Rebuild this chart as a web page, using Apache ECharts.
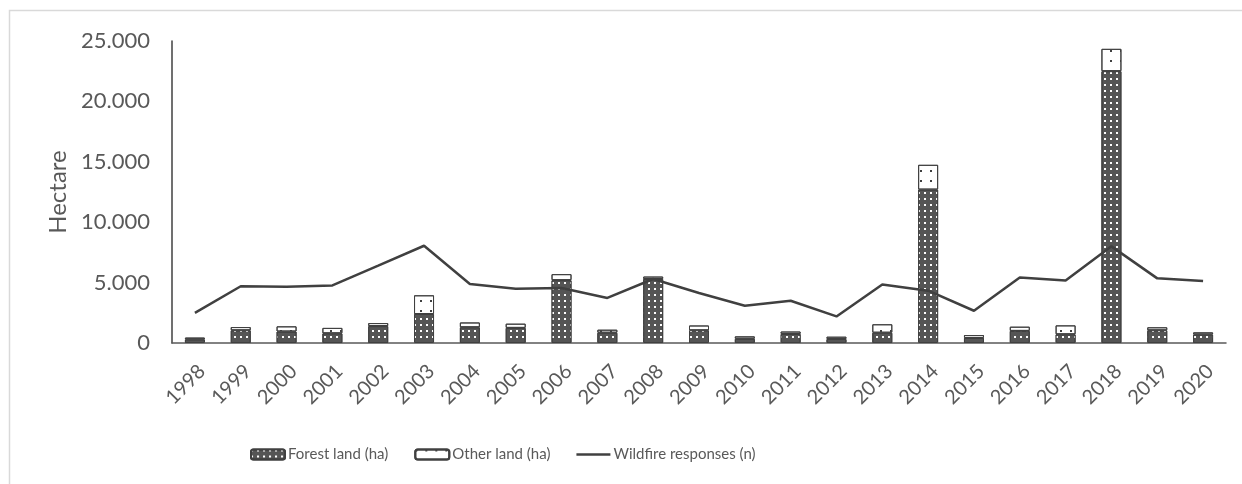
<!DOCTYPE html>
<html>
<head>
<meta charset="utf-8">
<script src="https://cdn.jsdelivr.net/npm/echarts@6/dist/echarts.min.js"></script>
<style>
  html, body { margin: 0; padding: 0; background: #fff; }
  #Chart { width: 1242px; height: 484px; }
</style>
</head>
<body>
<div id="Chart"></div>
<script>
const years = ["1998", "1999", "2000", "2001", "2002", "2003", "2004", "2005", "2006", "2007", "2008", "2009",
  "2010", "2011", "2012", "2013", "2014", "2015", "2016", "2017", "2018", "2019", "2020"]
// hectare
const forestLand = [300, 1050, 950, 800, 1400, 2400, 1300, 1250, 5200, 850, 5300, 1050,
  350, 750, 330, 850, 12700, 420, 1000, 720, 22500, 1050, 700]
const otherLand = [150, 270, 430, 450, 250, 1550, 400, 350, 500, 250, 200, 400,
  200, 200, 190, 700, 2050, 240, 350, 740, 1850, 250, 180]
const wildfireResponses = [2500, 4700, 4650, 4770, 6400, 8050, 4880, 4500, 4550, 3730, 5300, 4140,
  3090, 3500, 2200, 4850, 4330, 2670, 5430, 5180, 8000, 5350, 5130]
const yTicks = [0, 5000, 10000, 15000, 20000, 25000]

const font = "Lato, \"Noto Sans\", sans-serif"
const dark = "#404040"
const grey = "#595959"

// 25000 -> "25.000"
const dotted = (v) => String(v).replace(/\B(?=(\d{3})+(?!\d))/g, ".")

const chart = echarts.init(document.getElementById("Chart"), null, { renderer: "canvas" })

const option = {
  animation: false,
  textStyle: { fontFamily: font },
  graphic: [
    {
      type: "rect",
      shape: { x: 9.5, y: 10.5, width: 1400, height: 600 },
      style: { fill: "none", stroke: "#d9d9d9", lineWidth: 1.5 },
      silent: true
    }
  ],
  grid: {
    left: 172,
    right: 16,
    top: 41,
    bottom: 141
  },
  legend: {
    bottom: 17,
    left: 245,
    itemWidth: 34,
    itemHeight: 10,
    itemGap: 26,
    textStyle: { fontFamily: font, fontSize: 15, color: grey, padding: [0, 0, 0, -2] },
    data: [
      "Forest land (ha)",
      "Other land (ha)",
      { name: "Wildfire responses (n)", icon: "path://M0,0 L34,0 L34,2.4 L0,2.4 Z" }
    ]
  },
  xAxis: {
    type: "category",
    data: years,
    axisLine: { show: true, lineStyle: { color: grey, width: 1.5 } },
    axisTick: { show: false },
    axisLabel: {
      rotate: 45,
      fontSize: 20,
      color: grey,
      margin: 18,
      interval: 0,
      align: "right",
      verticalAlign: "top"
    }
  },
  yAxis: {
    type: "value",
    min: yTicks[0],
    max: yTicks[yTicks.length - 1],
    interval: yTicks[1] - yTicks[0],
    name: "Hectare",
    nameLocation: "middle",
    nameGap: 100,
    nameTextStyle: { fontSize: 24, color: grey },
    axisLine: { show: true, lineStyle: { color: dark, width: 1.5 } },
    axisTick: { show: false },
    splitLine: { show: false },
    axisLabel: { fontSize: 22, color: grey, margin: 22, formatter: dotted }
  },
  series: [
    {
      name: "Forest land (ha)",
      type: "bar",
      stack: "land",
      barWidth: 20,
      itemStyle: {
        color: "#555555",
        borderColor: dark,
        borderWidth: 1,
        decal: {
          symbol: "rect",
          symbolSize: 1,
          color: "#ffffff",
          dashArrayX: [2, 3.5],
          dashArrayY: [2, 3.5]
        }
      },
      data: forestLand
    },
    {
      name: "Other land (ha)",
      type: "bar",
      stack: "land",
      barWidth: 20,
      itemStyle: {
        color: "#ffffff",
        borderColor: dark,
        borderWidth: 1,
        decal: {
          symbol: "rect",
          symbolSize: 1,
          color: dark,
          dashArrayX: [2, 8],
          dashArrayY: [2, 8]
        }
      },
      data: otherLand
    },
    {
      name: "Wildfire responses (n)",
      type: "line",
      symbol: "none",
      z: 5,
      lineStyle: { color: dark, width: 2.5 },
      itemStyle: { color: dark },
      data: wildfireResponses
    }
  ]
}

chart.setOption(option)
</script>
</body>
</html>
